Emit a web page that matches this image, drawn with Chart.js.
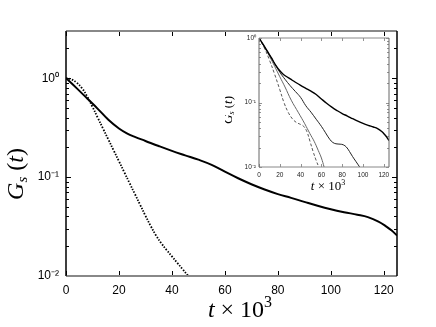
<!DOCTYPE html>
<html><head><meta charset="utf-8">
<script src="https://cdn.jsdelivr.net/npm/chart.js@4/dist/chart.umd.min.js"></script>
<style>
html,body{margin:0;padding:0;background:#fff;width:436px;height:327px;overflow:hidden}
#main{position:absolute;left:0;top:0}
#inset{position:absolute;left:225px;top:30px}
</style></head><body>
<canvas id="main" width="436" height="327"></canvas>
<canvas id="inset" width="211" height="170"></canvas>
<script>
// ---- data ----
const solidT = [0,4,8,12,16,20,23,26,30,35,40,45,50,55,60,65,70,75,80,85,90,95,100,105,110,114,118,121,123,125];
const solidG = [1,0.794,0.624,0.49,0.38,0.31,0.277,0.255,0.232,0.206,0.184,0.166,0.15,0.133,0.1135,0.0973,0.0847,0.075,0.0673,0.0617,0.0562,0.0513,0.0473,0.0442,0.0417,0.0394,0.0355,0.0316,0.0288,0.0257];
const dottedT = [0,2,4,6,8,10,12,14,16,18,20,22,24,26,28,30,32,34,36,38,40,42,44,46,47];
const dottedG = [1,0.973,0.902,0.794,0.653,0.513,0.398,0.309,0.24,0.186,0.1445,0.112,0.087,0.0676,0.0525,0.0407,0.032,0.0257,0.0214,0.0183,0.0158,0.0136,0.01175,0.01014,0.00942];
const inset2T = [0,10,20,25,30,35,40,45,50,55,60,64,68,71,74,78,81,84,87,90,93,96.8];
const inset2G = [1,0.55,0.295,0.229,0.182,0.148,0.12,0.0891,0.0708,0.055,0.0427,0.0339,0.0269,0.024,0.0229,0.0226,0.0221,0.0204,0.0174,0.0145,0.0123,0.01];
const inset3T = [0,10,20,25,31,38,44,49,53,57,60,62.6];
const inset3G = [1,0.525,0.251,0.174,0.1086,0.0692,0.0468,0.0328,0.0251,0.018,0.0138,0.01];
const insetDashT = [0,5,10,15,20,24,28,32,36,40,43,46,49,52,55,57.5];
const insetDashG = [1,0.708,0.457,0.275,0.158,0.1,0.0708,0.0562,0.049,0.0457,0.0427,0.0355,0.0251,0.0174,0.0126,0.01];
const xTickValues = [0,20,40,60,80,100,120];
const yTickValues = [0.01,0.1,1];
const yTickLabels = ['10\u207B\u00B2','10\u207B\u00B9','10\u2070'];

const pts = (t,g) => t.map((v,i)=>({x:v,y:g[i]}));

function frameTicks(opts){
  return {
    id:'frameTicks',
    afterDraw(chart){
      const {ctx, chartArea:a, scales:{x,y}} = chart;
      ctx.save();
      ctx.strokeStyle = opts.tickColor; ctx.lineWidth = opts.tickWidth;
      ctx.beginPath();
      xTickValues.forEach(v=>{
        const px = Math.round(x.getPixelForValue(v))+0.5;
        ctx.moveTo(px,a.bottom); ctx.lineTo(px,a.bottom-opts.major);
        ctx.moveTo(px,a.top); ctx.lineTo(px,a.top+opts.major);
      });
      for(let d=0.01; d<=10; d*=10){
        for(let m=1;m<10;m++){
          const v=d*m; if(v< y.min-1e-9 || v> y.max+1e-9) continue;
          const py = Math.round(y.getPixelForValue(v))+0.5;
          const L = m===1?opts.major:opts.minor;
          ctx.moveTo(a.left,py); ctx.lineTo(a.left+L,py);
          ctx.moveTo(a.right,py); ctx.lineTo(a.right-L,py);
        }
      }
      ctx.stroke();
      ctx.lineWidth = opts.hw; ctx.strokeStyle = opts.hColor;
      ctx.beginPath();
      ctx.moveTo(a.left,a.top); ctx.lineTo(a.right,a.top);
      ctx.moveTo(a.left,a.bottom); ctx.lineTo(a.right,a.bottom);
      ctx.stroke();
      ctx.lineWidth = opts.vw; ctx.strokeStyle = opts.vColor;
      ctx.beginPath();
      ctx.moveTo(a.left,a.top); ctx.lineTo(a.left,a.bottom);
      ctx.moveTo(a.right,a.top); ctx.lineTo(a.right,a.bottom);
      ctx.stroke();
      drawTitles(ctx, opts);
      ctx.restore();
    }
  };
}

function drawPieces(ctx, pieces, cx, baseline){
  let total=0;
  pieces.forEach(p=>{ctx.font=p.font; p.w=ctx.measureText(p.text).width; total+=p.w;});
  let xx = cx-total/2;
  ctx.textBaseline='alphabetic'; ctx.textAlign='left';
  pieces.forEach(p=>{ctx.font=p.font; ctx.fillText(p.text, xx, baseline+(p.dy||0)); xx+=p.w;});
}

function drawTitles(ctx, o){
  const s=o.titleSize, serif="'Liberation Serif', 'DejaVu Serif', serif";
  ctx.fillStyle='#000';
  const it = `italic ${s}px ${serif}`, up = `${s}px ${serif}`, sm = `${Math.round(s*0.65)}px ${serif}`, smi=`italic ${Math.round(s*0.62)}px ${serif}`;
  drawPieces(ctx,[{text:'t',font:it},{text:' \u00D7 10',font:up},{text:'3',font:sm,dy:-s*0.42}], o.xTitle[0], o.xTitle[1]);
  ctx.save();
  ctx.translate(o.yTitle[0], o.yTitle[1]); ctx.rotate(-Math.PI/2);
  drawPieces(ctx,[{text:'G',font:it},{text:'s',font:smi,dy:s*0.18},{text:' (',font:up},{text:'t',font:it},{text:')',font:up}],0,0);
  ctx.restore();
}

function makeChart(id, opts){
  return new Chart(document.getElementById(id),{
    type:'line',
    data:{datasets:opts.datasets},
    options:{
      responsive:false, animation:false, devicePixelRatio:1,
      layout:{padding:opts.padding},
      plugins:{legend:{display:false},tooltip:{enabled:false}},
      elements:{point:{radius:0},line:{tension:0.4,fill:false}},
      scales:{
        x:{type:'linear',min:0,max:125,
          afterBuildTicks:s=>{s.ticks=xTickValues.map(v=>({value:v}));},
          afterFit:s=>{s.height=opts.xh;},
          grid:{display:false,drawTicks:false}, border:{display:false},
          ticks:{padding:opts.xpad,color:opts.labelColor,maxRotation:0,autoSkip:false,
            font:{family:"'Liberation Sans', Arial, sans-serif",size:opts.tickSize}}},
        y:{type:'logarithmic',min:0.01,max:opts.ymax,
          afterBuildTicks:s=>{s.ticks=yTickValues.map(v=>({value:v}));},
          afterFit:s=>{s.width=opts.yw;},
          grid:{display:false,drawTicks:false}, border:{display:false},
          ticks:{padding:opts.ypad,color:opts.labelColor,autoSkip:false,
            callback:(v,i)=>yTickLabels[i],
            font:{family:"'Liberation Sans', Arial, sans-serif",size:opts.tickSize}}}
      }
    },
    plugins:[frameTicks(opts)]
  });
}

makeChart('main',{
  padding:{left:0,top:31,right:39,bottom:0}, xh:51, yw:66, xpad:7, ypad:7, ymax:3,
  tickSize:12, labelColor:'#000',
  tickColor:'#000', tickWidth:1, major:5, minor:3,
  hColor:'#888', hw:2, vColor:'#000', vw:1.5,
  titleSize:24, xTitle:[240,317], yTitle:[23,174],
  datasets:[
    {data:pts(solidT,solidG),borderColor:'#000',borderWidth:2},
    {data:pts(dottedT,dottedG),borderColor:'#000',borderWidth:1.8,borderDash:[1.5,1.5]}
  ]
});

makeChart('inset',{
  padding:{left:0,top:8,right:47,bottom:0}, xh:33, yw:34, xpad:4, ypad:3, ymax:1,
  tickSize:6.5, labelColor:'#222',
  tickColor:'#777', tickWidth:0.8, major:3, minor:2,
  hColor:'#888', hw:1, vColor:'#666', vw:1,
  titleSize:13, xTitle:[103,160], yTitle:[7,80],
  datasets:[
    {data:pts(solidT,solidG),borderColor:'#000',borderWidth:1.4},
    {data:pts(inset2T,inset2G),borderColor:'#222',borderWidth:1},
    {data:pts(inset3T,inset3G),borderColor:'#666',borderWidth:1},
    {data:pts(insetDashT,insetDashG),borderColor:'#555',borderWidth:1,borderDash:[3,2]}
  ]
});
</script>
</body></html>
